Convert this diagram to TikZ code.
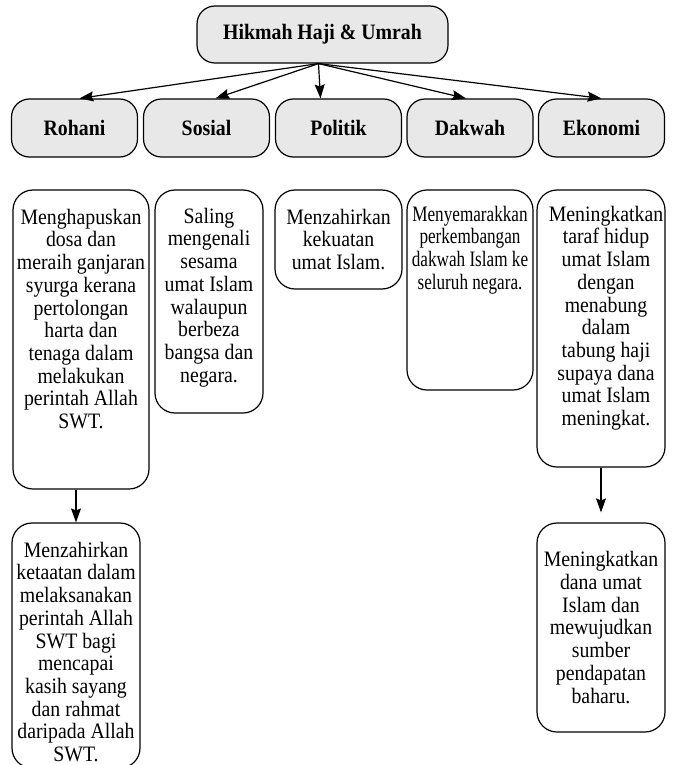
\documentclass[tikz,border=0pt]{standalone}
\usepackage{fontspec}
\setmainfont{Liberation Serif}[FakeStretch=0.9]
\newfontfamily\narrowserif{Liberation Serif}[FakeStretch=0.78]
\usetikzlibrary{positioning, arrows.meta}
\definecolor{headfill}{gray}{0.91}

\begin{document}
\begin{tikzpicture}[x=1pt,y=-1pt,line width=1.2pt,
  head/.style={draw,rounded corners=18pt,fill=headfill,minimum width=126pt,minimum height=58pt,inner sep=0pt,font=\fontsize{22}{23}\selectfont\bfseries},
  card/.style={draw,rounded corners=20pt,inner sep=0pt},
  words/.style={align=center,inner sep=0pt,font=\fontsize{22}{22.7}\selectfont},
  arr/.style={-{Stealth[length=14pt,width=10pt,inset=2pt]}}]
  \useasboundingbox (0,0) rectangle (674,765);
  \path (322.5,34.5) node[head,minimum width=251pt,minimum height=57pt] (h0) {Hikmah Haji \& Umrah}
  (74.5,128) node[head] (h1) {Rohani} (206.5,128) node[head] (h2) {Sosial}
  (338.5,128) node[head] (h3) {Politik} (470,128) node[head] (h4) {Dakwah}
  (601.5,128) node[head] (h5) {Ekonomi};
  \path (81,339.5) node[card,minimum width=136pt,minimum height=299pt] (d1) {}
  (209,301.5) node[card,minimum width=108pt,minimum height=223pt] (d2) {}
  (338.5,239.5) node[card,minimum width=127pt,minimum height=99pt] (d3) {}
  (470,290) node[card,minimum width=126pt,minimum height=200pt] (d4) {}
  (601,328.5) node[card,minimum width=128pt,minimum height=277pt] (d5) {}
  (76,645.5) node[card,minimum width=128pt,minimum height=245pt] (b1) {}
  (601,627.5) node[card,minimum width=128pt,minimum height=209pt] (b5) {};
  \node[words,below=19pt of d1.north] (w1) {Menghapuskan\\dosa dan\\meraih ganjaran\\syurga kerana\\pertolongan\\harta dan\\tenaga dalam\\melakukan\\perintah Allah\\SWT.};
  \node[words,below=18pt of d2.north] (w2) {Saling\\mengenali\\sesama\\umat Islam\\walaupun\\berbeza\\bangsa dan\\negara.};
  \node[words,below=19pt of d3.north] (w3) {Menzahirkan\\kekuatan\\umat Islam.};
  \node[words,below=16pt of d4.north,font=\fontsize{22}{22.7}\selectfont\narrowserif] (w4) {Menyemarakkan\\perkembangan\\dakwah Islam ke\\seluruh negara.};
  \node[words,below=16pt of d5.north,xshift=5pt] (w5) {Meningkatkan\\taraf hidup\\umat Islam\\dengan\\menabung\\dalam\\tabung haji\\supaya dana\\umat Islam\\meningkat.};
  \node[words,below=19pt of b1.north] (w6) {Menzahirkan\\ketaatan dalam\\melaksanakan\\perintah Allah\\SWT bagi\\mencapai\\kasih sayang\\dan rahmat\\daripada Allah\\SWT.};
  \node[words] (w7) at (b5) {Meningkatkan\\dana umat\\Islam dan\\mewujudkan\\sumber\\pendapatan\\baharu.};
  \draw[arr] ([xshift=-4pt]h0.south) -- ([xshift=5pt]h1.north);
  \draw[arr] ([xshift=-4pt]h0.south) -- ([xshift=9pt]h2.north);
  \draw[arr] ([xshift=-4pt]h0.south) -- ([xshift=-18pt]h3.north);
  \draw[arr] ([xshift=-4pt]h0.south) -- ([xshift=-4pt]h4.north);
  \draw[arr] ([xshift=-4pt]h0.south) -- (h5.north);
  \draw[arr] (b1.north |- d1.south) -- (b1.north);
  \draw[arr,shorten >=10pt] (d5.south) -- (b5.north);
\end{tikzpicture}
\end{document}
